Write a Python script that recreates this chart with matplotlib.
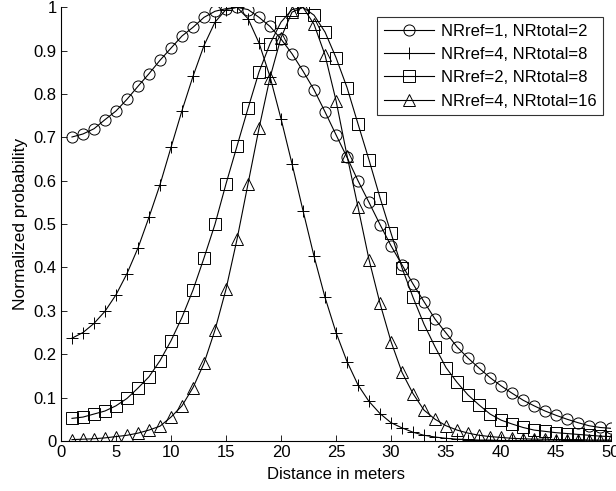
import matplotlib
matplotlib.use("Agg")
import matplotlib.pyplot as plt
import numpy as np

plt.rcParams['font.family'] = ['Liberation Sans', 'DejaVu Sans']

distance = list(range(1, 51))

nr1_2 = [0.701, 0.708, 0.720, 0.741, 0.761, 0.788, 0.818, 0.847, 0.878, 0.906,
         0.934, 0.954, 0.977, 0.991, 0.997, 1.000, 0.995, 0.977, 0.956, 0.927,
         0.893, 0.853, 0.810, 0.759, 0.706, 0.654, 0.600, 0.550, 0.499, 0.450,
         0.406, 0.362, 0.321, 0.281, 0.249, 0.217, 0.191, 0.168, 0.146, 0.127,
         0.110, 0.094, 0.081, 0.069, 0.059, 0.050, 0.042, 0.035, 0.031, 0.029]

nr4_8 = [0.237, 0.250, 0.271, 0.299, 0.337, 0.386, 0.445, 0.516, 0.591, 0.677,
         0.762, 0.841, 0.912, 0.966, 0.995, 1.000, 0.974, 0.918, 0.840, 0.743,
         0.639, 0.531, 0.426, 0.331, 0.250, 0.183, 0.129, 0.091, 0.063, 0.042,
         0.030, 0.020, 0.013, 0.009, 0.006, 0.004, 0.003, 0.002, 0.002, 0.001,
         0.001, 0.001, 0.001, 0.000, 0.000, 0.000, 0.000, 0.000, 0.000, 0.000]

nr2_8 = [0.052, 0.055, 0.062, 0.069, 0.081, 0.098, 0.122, 0.148, 0.185, 0.231,
         0.285, 0.348, 0.422, 0.500, 0.593, 0.680, 0.767, 0.851, 0.916, 0.966,
         0.995, 1.000, 0.982, 0.943, 0.884, 0.815, 0.731, 0.648, 0.561, 0.479,
         0.399, 0.331, 0.269, 0.217, 0.169, 0.135, 0.106, 0.083, 0.062, 0.048,
         0.039, 0.031, 0.025, 0.022, 0.019, 0.017, 0.015, 0.013, 0.011, 0.010]

nr4_16 = [0.003, 0.004, 0.005, 0.007, 0.010, 0.013, 0.018, 0.025, 0.034, 0.055,
          0.081, 0.123, 0.179, 0.256, 0.350, 0.465, 0.593, 0.721, 0.838, 0.930,
          0.989, 1.000, 0.961, 0.890, 0.785, 0.658, 0.539, 0.418, 0.317, 0.229,
          0.158, 0.109, 0.071, 0.050, 0.035, 0.025, 0.018, 0.013, 0.010, 0.008,
          0.006, 0.005, 0.004, 0.004, 0.003, 0.003, 0.003, 0.002, 0.002, 0.002]

labels = ['NRref=1, NRtotal=2', 'NRref=4, NRtotal=8',
          'NRref=2, NRtotal=8', 'NRref=4, NRtotal=16']
markers = ['o', '+', 's', '^']
series = [nr1_2, nr4_8, nr2_8, nr4_16]

fig = plt.figure(figsize=(6.16, 4.91), dpi=100)
ax = fig.add_axes([0.099, 0.102, 0.893, 0.883])

for y, m, lab in zip(series, markers, labels):
    ax.plot(distance, y, color='black', linewidth=0.8, marker=m,
            markersize=8 if m != '+' else 9, markerfacecolor='none',
            markeredgecolor='black', markeredgewidth=0.7, label=lab)

ax.set_xlim(0, 50)
ax.set_ylim(0, 1)
ax.set_xticks(np.arange(0, 51, 5))
ax.set_yticks(np.arange(0, 1.01, 0.1))
ax.set_yticklabels(['0', '0.1', '0.2', '0.3', '0.4', '0.5', '0.6', '0.7', '0.8', '0.9', '1'])
ax.tick_params(direction='in', length=4, width=0.6, labelsize=12, pad=3)
ax.spines['top'].set_visible(False)
ax.spines['right'].set_visible(False)
ax.spines['left'].set_linewidth(0.8)
ax.spines['bottom'].set_linewidth(0.8)
ax.set_xlabel('Distance in meters', fontsize=12, labelpad=5)
ax.set_ylabel('Normalized probability', fontsize=12.5, labelpad=4)

leg = ax.legend(loc='upper right', bbox_to_anchor=(0.985, 0.978), fontsize=12,
                frameon=True, fancybox=False, edgecolor='black',
                handlelength=3.0, numpoints=1, borderpad=0.4,
                labelspacing=0.5, handletextpad=0.4, borderaxespad=0)
leg.get_frame().set_linewidth(0.8)

fig.savefig('out.png', dpi=100)
